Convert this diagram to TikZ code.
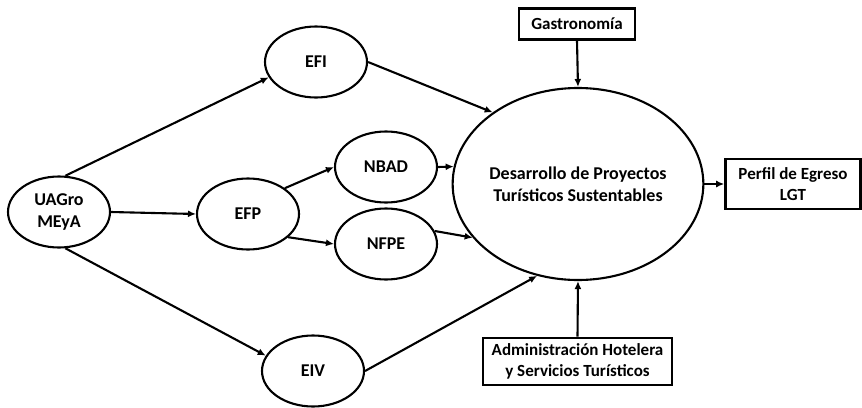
\documentclass[tikz,border=0pt]{standalone}
\usepackage{fontspec}
\setmainfont{Carlito}
\usetikzlibrary{shapes.geometric,arrows.meta}

\begin{document}
\begin{tikzpicture}
  [x=1pt, y=-1pt, line width=2.1pt]
  \tikzstyle{oval}   = [draw, ellipse, minimum width=102pt, minimum height=71pt, inner sep=0pt,
                        align=center, font=\bfseries\fontsize{18}{22}\selectfont];
  \tikzstyle{big_oval} = [oval, minimum width=221pt, minimum height=192pt];
  \tikzstyle{box}    = [draw, line width=2.6pt, rectangle, inner sep=0pt, align=center,
                        font=\bfseries\fontsize{17}{20.5}\selectfont];
  \tikzstyle{arrow}  = [-{Latex[length=8pt,width=7pt]}];

  \useasboundingbox (0, 0) rectangle (862, 407);

  \node[oval] (uagro) at (59, 212) {UAGro\\MEyA};
  \node[oval] (efi)   at (316, 62) {EFI};
  \node[oval] (efp)   at (248, 214) {EFP};
  \node[oval] (nbad)  at (386, 167) {NBAD};
  \node[oval] (nfpe)  at (386, 244) {NFPE};
  \node[oval] (eiv)   at (313, 371) {EIV};

  \node[big_oval] (dps) at (578, 184) {Desarrollo de Proyectos\\Turísticos Sustentables};

  \node[box, minimum width=116pt, minimum height=31pt] (gastro) at (577, 24) {Gastronomía};
  \node[box, minimum width=135pt, minimum height=50pt] (perfil) at (793, 184) {Perfil de Egreso\\LGT};
  \node[box, minimum width=189pt, minimum height=47pt] (admin)  at (577.5, 361.5)
    {Administración Hotelera\\y Servicios Turísticos};

  \draw[arrow] (uagro.80)  -- (efi.198);
  \draw[arrow] (uagro.east) -- (efp.west);
  \draw[arrow] (uagro.280) -- (eiv.162);

  \draw[arrow] (efp.35)  -- (nbad.west);
  \draw[arrow] (efp.330) -- (nfpe.west);

  \draw[arrow] (efi.east)  -- (dps.140);
  \draw[arrow] (nbad.east) -- (dps.172);
  \draw[arrow] (nfpe.15)   -- (dps.207);
  \draw[arrow] (eiv.east)  -- (dps.246);

  \draw[arrow] (gastro.south) -- (dps.north);
  \draw[arrow] (admin.north)  -- (dps.south);
  \draw[arrow] (dps.east)     -- (perfil.west);

\end{tikzpicture}
\end{document}
